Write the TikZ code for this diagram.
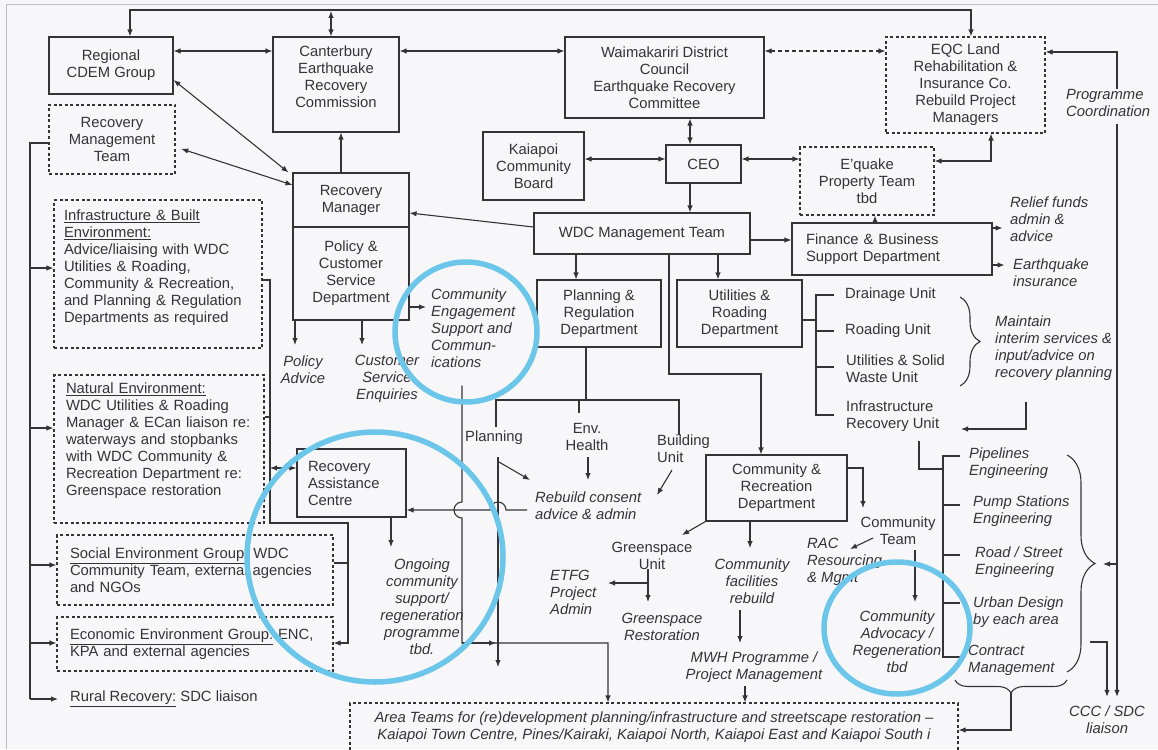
\documentclass[tikz,border=0pt]{standalone}
\usepackage{fontspec}
\setmainfont{Liberation Sans}
\usepackage{tikz}
\usetikzlibrary{arrows.meta, decorations.pathreplacing}
\usepackage{xcolor}
\definecolor{ink}{RGB}{52,52,56}
\definecolor{ringblue}{RGB}{108,198,234}
\definecolor{paper}{RGB}{247,247,249}
\newcommand\dgmfont{\fontsize{14.8}{17}\selectfont}

\begin{document}
\begin{tikzpicture}[x=1pt,y=-1pt,font=\dgmfont,color=ink,
    wire/.style={draw=ink,line width=1.1pt},
    arr/.style={wire,-{Latex[length=7pt,width=5.5pt]}},
    dbl/.style={wire,{Latex[length=7pt,width=5.5pt]}-{Latex[length=7pt,width=5.5pt]}},
    box/.style={draw=ink,line width=1.1pt,align=center,inner sep=0pt},
    dbox/.style={box,dash pattern=on 3pt off 2.5pt},
    ct/.style={align=center,inner sep=0pt},
    lt/.style={anchor=west,align=left,inner sep=0pt},
    itl/.style={font=\dgmfont\itshape},
    curly/.style={wire,decorate,decoration={brace,amplitude=#1}},
    hilite/.style={draw=ringblue,line width=5.5pt}]
    \fill[paper] (0,0) rectangle (1158,749);
    \useasboundingbox (0,0) rectangle (1158,749);
    \draw[black!25,line width=0.8pt] (6,749) -- (6,4) -- (1158,4);

    \node[box,minimum width=124,minimum height=57] (cdem) at (111,65.5) {Regional\\CDEM Group};
    \node[box,minimum width=126,minimum height=95,text depth=16pt] (cerc) at (336,84.5) {Canterbury\\Earthquake\\Recovery\\Commission};
    \node[box,minimum width=199,minimum height=81] (wdcc) at (664.5,77.5) {Waimakariri District\\Council\\Earthquake Recovery\\Committee};
    \node[dbox,minimum width=159,minimum height=96] (eqc) at (965.5,85) {EQC Land\\Rehabilitation \&\\Insurance Co.\\Rebuild Project\\Managers};
    \node[dbox,minimum width=126,minimum height=69] (rmt) at (112,139.5) {Recovery\\Management\\Team};
    \node[box,minimum width=101,minimum height=68] (kcb) at (533.5,166) {Kaiapoi\\Community\\Board};
    \node[box,minimum width=75,minimum height=38] (ceo) at (703.5,164) {CEO};
    \node[dbox,minimum width=134,minimum height=68] (eqp) at (867,181) {E'quake\\Property Team\\tbd};
    \node[box,minimum width=116,minimum height=54] (rm) at (351,200) {Recovery\\Manager};
    \node[box,minimum width=116,minimum height=93] (pcs) at (351,273.5) {Policy \&\\Customer\\Service\\Department};
    \node[box,minimum width=216,minimum height=41] (wdcm) at (642,233.5) {WDC Management Team};
    \node[box,align=left,text width=172,inner xsep=14,minimum height=52] (fin) at (892,249) {Finance \& Business\\Support Department};
    \node[dbox,align=left,text width=188,inner xsep=10,minimum height=148,text depth=118pt] (infra) at (158,274) {\underline{Infrastructure \& Built}\\\underline{Environment:}\\Advice/liaising with WDC\\Utilities \& Roading,\\Community \& Recreation,\\and Planning \& Regulation\\Departments as required};
    \node[dbox,align=left,text width=186,inner xsep=12,minimum height=148,text depth=121pt] (natenv) at (159,449) {\underline{Natural Environment:}\\WDC Utilities \& Roading\\Manager \& ECan liaison re:\\waterways and stopbanks\\with WDC Community \&\\Recreation Department re:\\Greenspace restoration};
    \node[dbox,align=left,text width=250,inner xsep=13,minimum height=70] (social) at (195,570) {\underline{Social Environment Group:} WDC\\Community Team, external agencies\\and NGOs};
    \node[dbox,align=left,text width=250,inner xsep=13,minimum height=54] (econ) at (195,644) {\underline{Economic Environment Group:} ENC,\\KPA and external agencies};
    \node[lt] (rural) at (70,699) {\underline{Rural Recovery:} SDC liaison};
    \node[box,minimum width=124,minimum height=67] (plan) at (599,313.5) {Planning \&\\Regulation\\Department};
    \node[box,minimum width=125,minimum height=67] (util) at (739.5,313.5) {Utilities \&\\Roading\\Department};
    \node[box,align=left,text width=87,inner xsep=11,minimum height=68] (rac) at (351.5,483) {Recovery\\Assistance\\Centre};
    \node[box,minimum width=141,minimum height=66] (cr) at (776.5,488) {Community \&\\Recreation\\Department};
    \node[dbox,itl,minimum width=608,minimum height=49] (area) at (654,727.5) {Area Teams for (re)development planning/infrastructure and streetscape restoration --\\Kaiapoi Town Centre, Pines/Kairaki, Kaiapoi North, Kaiapoi East and Kaiapoi South i};

    \node[lt,itl] (pc) at (1066,102.5) {Programme\\Coordination};
    \node[lt,itl] (relief) at (1010,219) {Relief funds\\admin \&\\advice};
    \node[lt,itl] (eqins) at (1013,273) {Earthquake\\insurance};
    \node[ct,itl] (padv) at (303,370) {Policy\\Advice};
    \node[ct,itl] (cse) at (387,378.5) {Customer\\Service\\Enquiries};
    \node[lt,itl] (ces) at (431,328) {Community\\Engagement\\Support and\\Commun-\\ications};
    \node[lt] (drain) at (845,295) {Drainage Unit};
    \node[lt] (road) at (845,331) {Roading Unit};
    \node[lt] (solid) at (846,368.5) {Utilities \& Solid\\Waste Unit};
    \node[lt] (infru) at (846,416.5) {Infrastructure\\Recovery Unit};
    \node[lt,itl] (maint) at (995,348) {Maintain\\interim services \&\\input/advice on\\recovery planning};
    \node[ct] (pln) at (494,438) {Planning};
    \node[ct] (envh) at (587,437) {Env.\\Health};
    \node[lt] (bldg) at (657,449) {Building\\Unit};
    \node[lt,itl] (rbc) at (535,505.5) {Rebuild consent\\advice \& admin};
    \node[ct,itl] (ong) at (422,606.5) {Ongoing\\community\\support/\\regeneration\\programme\\tbd.};
    \node[ct] (gsu) at (652,555.5) {Greenspace\\Unit};
    \node[lt,itl] (etfg) at (550,592.5) {ETFG\\Project\\Admin};
    \node[ct,itl] (gsr) at (662,626.5) {Greenspace\\Restoration};
    \node[ct,itl] (cfr) at (752,581.5) {Community\\facilities\\rebuild};
    \node[ct] (cteam) at (898,530.5) {Community\\Team};
    \node[lt,itl] (racr) at (807,562) {RAC\\Resourcing\\\& Mgmt};
    \node[ct,itl] (adv) at (897,641.5) {Community\\Advocacy /\\Regeneration\\tbd};
    \node[ct,itl] (mwh) at (754,667.5) {MWH Programme /\\Project Management};
    \node[lt,itl] (pipe) at (969,463.5) {Pipelines\\Engineering};
    \node[lt,itl] (pump) at (973,511.5) {Pump Stations\\Engineering};
    \node[lt,itl] (rse) at (975,562) {Road / Street\\Engineering};
    \node[lt,itl] (urb) at (973,612) {Urban Design\\by each area};
    \node[lt,itl] (cm) at (968,660) {Contract\\Management};
    \node[ct,itl] (ccc) at (1107,720) {CCC / SDC\\liaison};

    \draw[dbl] (cdem.north -| 130,0) |- (971,10) -- (eqc.north -| 971,0);
    \draw[dbl] (331,11) -- (cerc.north -| 331,0);
    \draw[dbl] (cdem.east |- 0,51) -- (cerc.west |- 0,51);
    \draw[dbl] (cerc.east |- 0,51) -- (wdcc.west |- 0,51);
    \draw[dbl,dash pattern=on 4pt off 3pt] (wdcc.east |- 0,51) -- (eqc.west |- 0,51);
    \draw[dbl] (cdem.east |- 0,80) -- ([xshift=-4]rm.north west);
    \draw[dbl,shorten <=6pt] (rmt.east |- 0,147) -- (rm.west |- 0,185);
    \draw[arr] (rm.north -| 341,0) -- (cerc.south -| 341,0);
    \draw[arr] (wdcm.west |- 0,227) -- (rm.east |- 0,213);
    \draw[dbl] (wdcc.south -| 690,0) -- (ceo.north -| 690,0);
    \draw[dbl] (kcb.east |- 0,159) -- (ceo.west |- 0,159);
    \draw[dbl] (ceo.east |- 0,159) -- (eqp.west |- 0,159);
    \draw[arr] (ceo.south -| 690,0) -- (wdcm.north -| 690,0);
    \draw[dbl] (eqp.east |- 0,161) -| (eqc.south -| 991,0);
    \draw[arr] (fin.north -| 875,0) -- (eqp.south -| 875,0);
    \draw[arr] (wdcm.east |- 0,240) -- (fin.west |- 0,240);
    \draw[arr] (fin.east |- 0,228) -- ++(10,0);
    \draw[arr] (fin.east |- 0,265) -- ++(12,0);
    \draw[arr] (pc.north -| 1117,0) |- (eqc.east |- 0,52);
    \draw[arr,shorten >=9pt] (pc.south -| 1117,0) ++(0,8) -- (ccc.north -| 1117,0);
    \draw[arr] (1117,564) -- ++(-14,0);
    \draw[arr,shorten >=9pt] (1090,642) -| (ccc.north);

    \draw[wire] (rmt.west |- 0,143) -| (30,699);
    \foreach \yy/\tgt in {268/infra,428/natenv,565/social,643/econ}
        \draw[arr] (30,\yy) -- (\tgt.west |- 0,\yy);
    \draw[arr,shorten >=12pt] (30,699) -- (rural.west);
    \draw[arr] (infra.east |- 0,280) -| (270,523) -| (348,643) -- (econ.east |- 0,643);
    \draw[wire] (natenv.east |- 0,417) -- (270,417);
    \draw[wire] (social.east |- 0,563) -- (348,563);
    \draw[dbl] (270,468) -- (rac.west |- 0,468);

    \draw[arr] (pcs.south -| 295,0) -- (295,345);
    \draw[arr] (pcs.south -| 362,0) -- (362,345);
    \draw[arr,shorten >=5pt] (pcs.east |- 0,307) -- (ces.west |- 0,307);
    \draw[arr] (wdcm.south -| 576,0) -- (plan.north -| 576,0);
    \draw[arr] (wdcm.south -| 718,0) -- (util.north -| 718,0);
    \draw[arr] (wdcm.south -| 669,0) |- (761,374) -- (cr.north -| 761,0);

    \draw[wire] (util.east |- 0,320) -- (816,320);
    \draw[wire,shorten <=11pt,shorten >=12pt] (drain.west) -| (816,415) -- (infru.west |- 0,415);
    \draw[wire,shorten <=11pt] (road.west) -- (816,331);
    \draw[wire,shorten <=12pt] (solid.west |- 0,367) -- (816,367);
    \draw[curly=20] (960,297) -- (960,386);
    \draw[arr] (1026,402) |- (961,429);
    \draw[wire] (infru.south -| 919,0) ++(0,9) |- (943,469);
    \draw[wire,shorten <=9pt,shorten >=8pt] (pipe.west |- 0,456) -| (943,657) -- (cm.west |- 0,657);
    \foreach \yy in {505,555,603}
        \draw[wire] (943,\yy) -- (960,\yy);
    \draw[curly=28] (1067,455) -- (1067,672);
    \draw[curly=13] (1067,680) -- (955,680);
    \draw[arr] (1011,693) |- (area.east |- 0,730);

    \draw[wire] (plan.south -| 586,0) -- (586,400);
    \draw[wire] (496,427) |- (679,400) -- (bldg.north -| 679,0);
    \draw[wire] (579,400) -- (579,413);
    \draw[arr] (499,462) -- (530,480);
    \draw[arr] (588,457) -- (588,480);
    \draw[arr] (672,470) -- (657,495);
    \draw[arr] (498,457) -- (498,667);
    \draw[arr] (rbc.west |- 0,510) ++(-8,0) -- (506,510) arc[start angle=0,end angle=-180,radius=8] -- (rac.east |- 0,510);
    \draw[arr] (ces.south -| 462,0) ++(0,18) -- (462,502) arc[start angle=-90,end angle=-270,radius=8] -- (462,643) -| (area.north -| 608,0);
    \draw[arr] (462,643) -- (496,643);
    \draw[arr] (rac.south -| 391,0) -- (391,547);

    \draw[arr] (cr.south west) -- (682,535);
    \draw[arr] (cr.south -| 750,0) -- (750,548);
    \draw[arr] (cr.east |- 0,468) -| (863,508);
    \draw[arr] (873,538) -- (850,549);
    \draw[arr] (915,550) -- (915,602);
    \draw[wire] (gsu.south -| 648,0) -- (648,583);
    \draw[arr] (648,583) -- (608,583);
    \draw[arr] (648,583) -- (648,602);
    \draw[arr] (740,610) -- (740,643);
    \draw[arr] (mwh.south -| 745,0) ++(0,3) -- (area.north -| 745,0);

    \draw[hilite] (466,332) ellipse [x radius=71,y radius=70];
    \draw[hilite] (375,557) ellipse [x radius=128,y radius=125];
    \draw[hilite] (897,628) ellipse [x radius=73,y radius=66];
\end{tikzpicture}
\end{document}
